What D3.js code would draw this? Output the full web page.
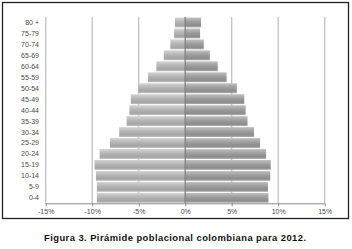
<!DOCTYPE html>
<html><head><meta charset="utf-8">
<script src="https://cdn.jsdelivr.net/npm/d3@7"></script>
<style>body{margin:0;background:#fff;}svg{display:block;}</style>
</head><body>
<script>
const ageGroups = ["0-4","5-9","10-14","15-19","20-24","25-29","30-34","35-39","40-44","45-49","50-54","55-59","60-64","65-69","70-74","75-79","80 +"];
const male =   [-9.5,-9.5,-9.6,-9.75,-9.2,-8.1,-7.1,-6.3,-6.0,-5.85,-5.05,-4.0,-3.1,-2.3,-1.6,-1.2,-1.1];
const female = [8.95,8.9,9.15,9.2,8.7,8.05,7.4,6.7,6.5,6.35,5.55,4.45,3.5,2.65,2.0,1.6,1.7];
const xTicks = [-15,-10,-5,0,5,10,15];
const caption = "Figura 3. Pirámide poblacional colombiana para 2012.";

const W = 352, H = 249;
const svg = d3.select("body").append("svg").attr("width", W).attr("height", H);
const defs = svg.append("defs");
function grad(id, stops){
  const g = defs.append("linearGradient").attr("id", id).attr("x1",0).attr("y1",0).attr("x2",0).attr("y2",1);
  stops.forEach(s => g.append("stop").attr("offset", s[0]).attr("stop-color", s[1]));
}
grad("gL", [[0,"#d4d4d4"],[0.45,"#b4b4b4"],[0.8,"#a4a4a4"],[1,"#c0c0c0"]]);
grad("gR", [[0,"#c0c0c0"],[0.45,"#9c9c9c"],[0.8,"#8c8c8c"],[1,"#acacac"]]);

// frame
svg.append("rect").attr("x",2.5).attr("y",2.5).attr("width",346).attr("height",216)
  .attr("fill","none").attr("stroke","#222").attr("stroke-width",1.3);

const x = d3.scaleLinear().domain([-15,15]).range([45.7,324.7]);
const y = d3.scaleBand().domain(ageGroups.slice().reverse()).range([17,203.3]).paddingInner(0.1).paddingOuter(0.05);

// gridlines
svg.append("g").selectAll("line").data(xTicks.filter(d=>d!==0)).join("line")
  .attr("x1",d=>x(d)).attr("x2",d=>x(d)).attr("y1",17).attr("y2",203.3)
  .attr("stroke","#bdbdbd").attr("stroke-width",1.2);

// bars
svg.append("g").selectAll("rect").data(ageGroups).join("rect")
  .attr("x",(d,i)=>x(male[i])).attr("width",(d,i)=>x(0)-x(male[i]))
  .attr("y",d=>y(d)).attr("height",y.bandwidth()).attr("fill","url(#gL)");
svg.append("g").selectAll("rect").data(ageGroups).join("rect")
  .attr("x",x(0)).attr("width",(d,i)=>x(female[i])-x(0))
  .attr("y",d=>y(d)).attr("height",y.bandwidth()).attr("fill","url(#gR)");

// zero line
svg.append("line").attr("x1",x(0)).attr("x2",x(0)).attr("y1",17).attr("y2",203.3)
  .attr("stroke","#7a7a7a").attr("stroke-width",1.2);

// x axis
const xa = svg.append("g").attr("transform","translate(0,203.3)")
  .call(d3.axisBottom(x).tickValues(xTicks).tickSize(3).tickFormat(d=>d+"%"));
xa.select(".domain").attr("stroke","#8a8a8a").attr("d",`M${x(-15)},0.5H${x(15)}`);
xa.selectAll(".tick line").attr("stroke","#8a8a8a");
xa.selectAll("text").attr("fill","#4a4a4a").attr("font-family","Liberation Sans, Arial, sans-serif")
  .attr("font-size",7).attr("dy","0.95em").attr("y",4);

// y labels
svg.append("g").selectAll("text").data(ageGroups).join("text")
  .attr("x",39).attr("y",d=>y(d)+y.bandwidth()/2).attr("dy","0.35em")
  .attr("text-anchor","end").attr("fill","#4a4a4a")
  .attr("font-family","Liberation Sans, Arial, sans-serif").attr("font-size",7)
  .text(d=>d);

// caption
svg.append("text").attr("x",44).attr("y",240.5)
  .attr("font-family","Liberation Sans, Arial, sans-serif").attr("font-weight","bold")
  .attr("font-size",9.4).attr("fill","#111")
  .attr("textLength",262).attr("lengthAdjust","spacing").text(caption);
</script>
</body></html>
